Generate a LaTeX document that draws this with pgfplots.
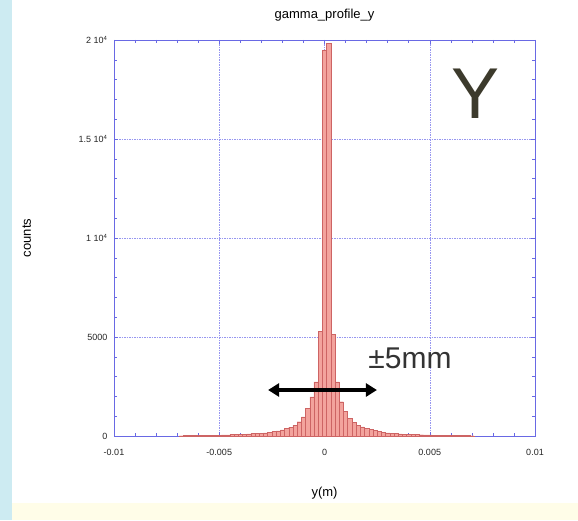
\documentclass[border=0pt]{standalone}
\usepackage{fontspec}
\setmainfont{Liberation Sans}
\usepackage{pgfplots}
\pgfplotsset{compat=1.18}
\usetikzlibrary{arrows.meta}

\definecolor{frameblue}{RGB}{105,105,228}
\definecolor{gridblue}{RGB}{150,150,240}
\definecolor{barfill}{RGB}{243,163,157}
\definecolor{baredge}{RGB}{205,100,100}
\definecolor{leftstrip}{RGB}{205,235,242}
\definecolor{bottomstrip}{RGB}{255,253,232}
\definecolor{ylettr}{RGB}{60,58,44}

\begin{document}
\begin{tikzpicture}[x=1pt,y=1pt]
\useasboundingbox (0,0) rectangle (578,520);
\fill[white] (0,0) rectangle (578,520);
\fill[leftstrip] (0,0) rectangle (12,520);
\fill[bottomstrip] (12,0) rectangle (578,17);
\begin{axis}[
    at={(114pt,84pt)}, anchor=south west,
    scale only axis,
    width=421pt, height=396pt,
    xmin=-0.01, xmax=0.01,
    ymin=0, ymax=20000,
    axis line style={frameblue, line width=0.7pt},
    xtick={-0.01,-0.005,0,0.005,0.01},
    xticklabels={-0.01,-0.005,0,0.005,0.01},
    ytick={0,5000,10000,15000,20000},
    yticklabels={0,5000,1 10\textsuperscript{4},1.5 10\textsuperscript{4},2 10\textsuperscript{4}},
    minor x tick num=4,
    minor y tick num=4,
    tick align=inside,
    xtick pos=both, ytick pos=both,
    major tick length=4pt, minor tick length=3pt,
    every tick/.style={frameblue, line width=0.5pt},
    ymajorgrids, xmajorgrids,
    major grid style={gridblue, line width=0.5pt, dash pattern=on 1.5pt off 1pt},
    tick label style={font=\fontsize{9}{11}\selectfont, text=black!85},
    xticklabel style={yshift=-10pt},
    yticklabel style={xshift=-3pt},
    scaled x ticks=false, scaled y ticks=false,
    title={gamma\_profile\_y},
    every axis title/.style={at={(axis description cs:0.5,1.063)}, anchor=center, font=\fontsize{13}{15}\selectfont},
    xlabel={y(m)},
    ylabel={counts},
    every axis x label/.style={at={(axis description cs:0.5,-0.144)}, anchor=center, font=\fontsize{13}{15}\selectfont},
    every axis y label/.style={at={(axis description cs:-0.207,0.5)}, rotate=90, anchor=center, font=\fontsize{13}{15}\selectfont},
]
\addplot[ybar interval, fill=barfill, draw=baredge, line width=0.4pt] coordinates {
(-0.0069,15) (-0.0067,20) (-0.0065,20) (-0.0063,25) (-0.0061,30)
(-0.0059,30) (-0.0057,35) (-0.0055,40) (-0.0053,45) (-0.0051,50)
(-0.0049,55) (-0.0047,60) (-0.0045,70) (-0.0043,80) (-0.0041,90)
(-0.0039,100) (-0.0037,110) (-0.0035,120) (-0.0033,130) (-0.0031,140)
(-0.0029,160) (-0.0027,190) (-0.0025,220) (-0.0023,260) (-0.0021,310)
(-0.0019,370) (-0.0017,450) (-0.0015,550) (-0.0013,720) (-0.0011,970)
(-0.0009,1410) (-0.0007,1980) (-0.0005,2740) (-0.0003,5270) (-0.0001,19460)
(0.0001,19830) (0.0003,5150) (0.0005,2740) (0.0007,1730) (0.0009,1230)
(0.0011,900) (0.0013,700) (0.0015,550) (0.0017,460) (0.0019,390)
(0.0021,320) (0.0023,270) (0.0025,220) (0.0027,190) (0.0029,160)
(0.0031,140) (0.0033,120) (0.0035,110) (0.0037,100) (0.0039,90)
(0.0041,80) (0.0043,70) (0.0045,65) (0.0047,60) (0.0049,55)
(0.0051,50) (0.0053,45) (0.0055,40) (0.0057,35) (0.0059,30)
(0.0061,30) (0.0063,25) (0.0065,20) (0.0067,20) (0.0069,15)
(0.0071,0)
};
\draw[black, line width=3.5pt, {Triangle[length=11pt,width=13pt]}-{Triangle[length=11pt,width=13pt]}]
  (axis cs:-0.00268,2323) -- (axis cs:0.00249,2323);
\node[text=black!80, font=\fontsize{30}{32}\selectfont] at (axis cs:0.00406,3940) {±5mm};
\node[text=ylettr, font=\fontsize{72}{76}\selectfont] at (axis cs:0.00715,17270) {Y};
\end{axis}
\end{tikzpicture}
\end{document}
